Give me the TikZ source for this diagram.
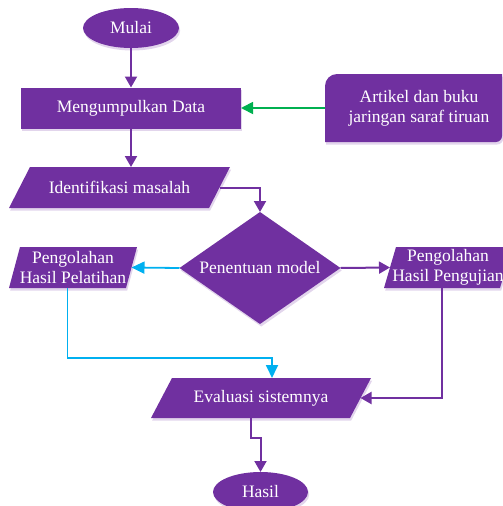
\documentclass[tikz,border=0pt]{standalone}
\usepackage{fontspec}
\setmainfont{Liberation Serif}
\usetikzlibrary{shapes.geometric,arrows.meta,calc,shadows,backgrounds}
\definecolor{purp}{HTML}{7030A0}
\definecolor{cyn}{HTML}{00B0F0}
\definecolor{grn}{HTML}{00B050}
\begin{document}
\begin{tikzpicture}[x=1pt,y=-1pt,
  every node/.style={inner sep=0pt, outer sep=0pt},
  lbl/.style={text=white, font=\fontsize{17.5}{20}\selectfont, align=center},
  shd/.style={drop shadow={shadow xshift=1.2pt, shadow yshift=-2.5pt, fill=purp!40, opacity=0.5}},
  filled/.style={fill=purp, lbl, shd},
  parfill/.style={fill=purp, shd},
  parr/.style={draw=purp, line width=2pt, -{Triangle[length=11pt,width=12pt]}},
  carr/.style={draw=cyn, line width=1.8pt, -{Triangle[length=13pt,width=12pt]}},
  garr/.style={draw=grn, line width=1.8pt, -{Triangle[length=12pt,width=12pt]}},
]
\useasboundingbox (0,0) rectangle (503,506);

\node[ellipse, filled, minimum width=96pt, minimum height=40pt] (mulai) at (131,28) {Mulai};
\node[rectangle, filled, minimum width=220pt, minimum height=41pt] (mk) at (131,108) {Mengumpulkan Data};
\node[lbl, minimum width=188pt, minimum height=68pt] (art) at (419,108) {Artikel dan buku\\jaringan saraf tiruan};
\node[lbl, minimum width=221pt, minimum height=41pt] (idn) at (119.5,187.5) {Identifikasi masalah};
\node[diamond, aspect=2.2, filled, minimum width=161pt, minimum height=112pt] (dia) at (260,268) {Penentuan model};
\node[lbl, minimum width=128pt, minimum height=41pt] (pel) at (73,267.5) {Pengolahan\\Hasil Pelatihan};
\node[lbl, minimum width=128pt, minimum height=41pt] (pgj) at (448,267.5) {Pengolahan\\Hasil Pengujian};
\node[lbl, minimum width=220pt, minimum height=40pt] (eva) at (261,398) {Evaluasi sistemnya};
\node[ellipse, filled, minimum width=95pt, minimum height=40pt] (hasil) at (260.5,492) {Hasil};

\begin{scope}[on background layer]
\fill[parfill] ($(idn.north west)+(21,0)$) -- (idn.north east) -- ($(idn.south east)+(-21,0)$) -- (idn.south west) -- cycle;
\fill[parfill] ($(pel.north west)+(11,0)$) -- (pel.north east) -- ($(pel.south east)+(-11,0)$) -- (pel.south west) -- cycle;
\fill[parfill] ($(pgj.north west)+(12,0)$) -- (pgj.north east) -- ($(pgj.south east)+(-12,0)$) -- (pgj.south west) -- cycle;
\fill[parfill] ($(eva.north west)+(21,0)$) -- (eva.north east) -- ($(eva.south east)+(-21,0)$) -- (eva.south west) -- cycle;
\fill[parfill] (325,142) -- (325,86) .. controls (325,79.4) and (330.4,74) .. (337,74) -- (502,74) -- (502,136) .. controls (502,139.3) and (499.3,142) .. (496,142) -- cycle;
\end{scope}

\coordinate (idnR) at ($(idn.east)+(-10.5,0)$);
\coordinate (pelR) at ($(pel.east)+(-5.5,0)$);
\coordinate (pgjL) at ($(pgj.west)+(6,0)$);
\coordinate (pelB) at ($(pel.south)+(-5.5,0)$);
\coordinate (evaT) at ($(eva.north)+(11,0)$);
\coordinate (cy) at (0,358);
\coordinate (pgjB) at ($(pgj.south)+(-6,0)$);
\coordinate (evaR) at ($(eva.east)+(-10.5,0)$);
\coordinate (evaB) at ($(eva.south)+(-10.5,0)$);
\coordinate (bend) at (260.5,438);

\draw[parr] (mulai.south) -- (mk.north);
\draw[parr] (mk.south) -- (mk.south |- idn.north);
\draw[garr] (art.west) -- (mk.east);
\draw[parr] (idnR) -| (dia.north);
\draw[carr] (dia.west) -- (pelR);
\draw[parr] (dia.east) -- (pgjL);
\draw[carr] (pelB) -- (pelB |- cy) -| (evaT);
\draw[parr] (pgjB) |- (evaR);
\draw[parr] (evaB) |- (bend) -- (hasil.north);
\end{tikzpicture}
\end{document}
